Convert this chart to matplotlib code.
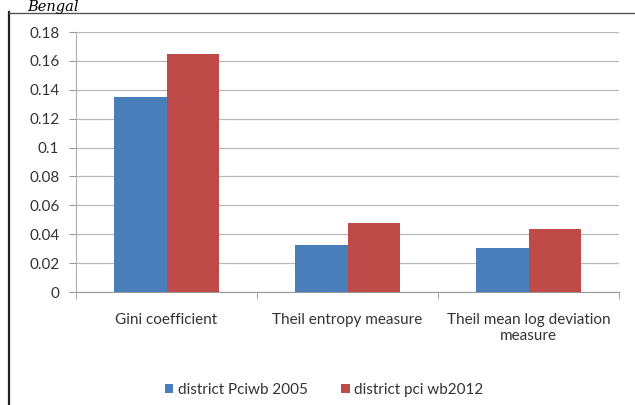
import matplotlib.pyplot as plt
import numpy as np
from matplotlib.lines import Line2D

# data
categories = ["Gini coefficient", "Theil entropy measure", "Theil mean log deviation\nmeasure"]
pci_2005 = [0.135, 0.0325, 0.0305]
pci_2012 = [0.165, 0.0478, 0.0437]
series_names = ["district Pciwb 2005", "district pci wb2012"]
yticks = [0, 0.02, 0.04, 0.06, 0.08, 0.1, 0.12, 0.14, 0.16, 0.18]
ytick_labels = ["0", "0.02", "0.04", "0.06", "0.08", "0.1", "0.12", "0.14", "0.16", "0.18"]

blue = "#4a7ebb"
red = "#be4b48"
W, H = 635, 405

plt.rcParams['font.family'] = ['Lato', 'DejaVu Sans']
fig = plt.figure(figsize=(W / 100, H / 100), dpi=100)

# frame of the embedded chart
fig.add_artist(Line2D([8.5 / W, 8.5 / W], [0, 1 - 12 / H], color="#222222", lw=1.6))
fig.add_artist(Line2D([8.5 / W, 1], [1 - 13 / H, 1 - 13 / H], color="#555555", lw=1.0))
fig.text(27 / W, 1 - 11.5 / H, "Bengal", family="DejaVu Serif", style="italic",
         fontsize=10.5, ha="left", va="baseline")

left, right, top, bottom = 76, 619, 32, 292
ax = fig.add_axes([left / W, 1 - bottom / H, (right - left) / W, (bottom - top) / H])

x = np.arange(len(categories))
w = 0.29
ax.bar(x - w / 2, pci_2005, w, color=blue, label=series_names[0], zorder=3)
ax.bar(x + w / 2, pci_2012, w, color=red, label=series_names[1], zorder=3)

ax.set_xlim(-0.5, len(categories) - 0.5)
ax.set_ylim(0, 0.18)
ax.set_yticks(yticks)
ax.set_yticklabels(ytick_labels)
ax.yaxis.grid(True, color="#b8b8b8", lw=0.9, zorder=0)

ax.set_xticks(x)
ax.set_xticklabels(categories, fontsize=11, color="#333333", linespacing=1.2)
ax.set_xticks(np.arange(len(categories) + 1) - 0.5, minor=True)
ax.tick_params(axis="x", which="major", length=0, pad=15)
ax.tick_params(axis="x", which="minor", length=5, color="#999999")
ax.tick_params(axis="y", length=5, color="#999999", labelsize=11, labelcolor="#333333", pad=7)

for s in ["top", "right"]:
    ax.spines[s].set_visible(False)
ax.spines["left"].set_color("#b0b0b0")
ax.spines["bottom"].set_color("#999999")

fig.legend(loc="center", bbox_to_anchor=(324 / W, 1 - 390 / H), ncol=2, frameon=False,
           fontsize=11, handlelength=0.55, handleheight=0.55, handletextpad=0.3,
           columnspacing=2.2, labelcolor="#333333")

fig.savefig("out.png", dpi=100)
